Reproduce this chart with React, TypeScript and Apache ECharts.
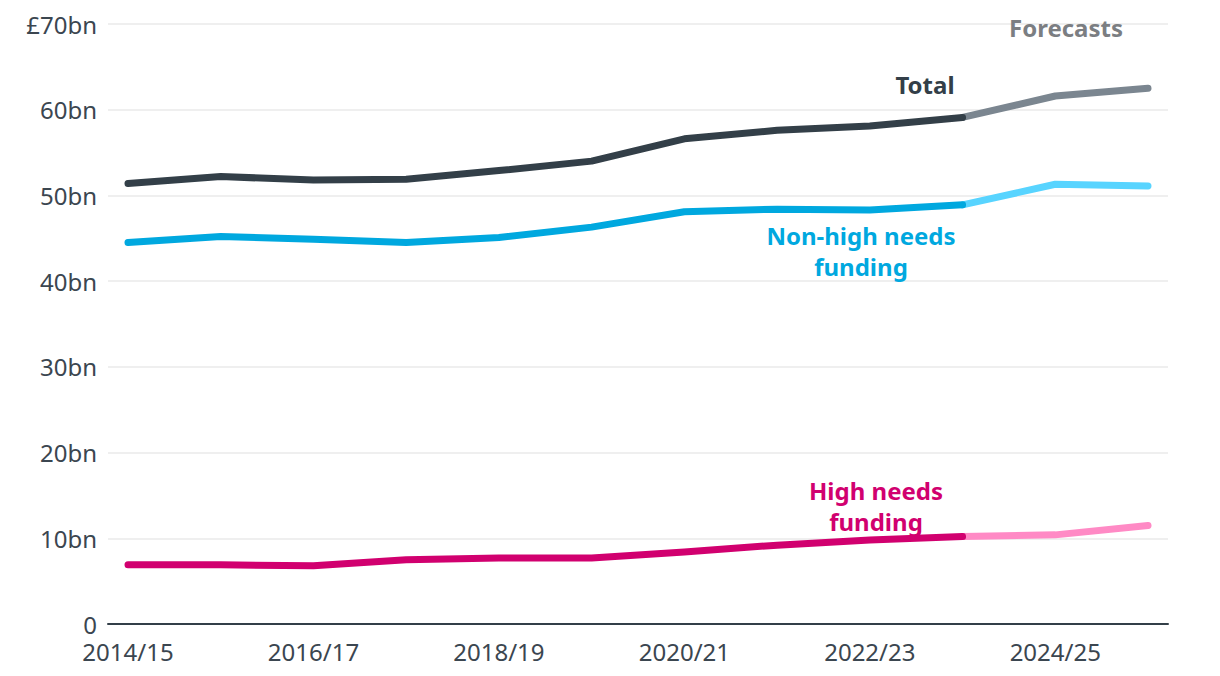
import React, { useEffect, useRef } from "react";
import * as echarts from "echarts";

const years = [
  "2014/15", "2015/16", "2016/17", "2017/18", "2018/19", "2019/20",
  "2020/21", "2021/22", "2022/23", "2023/24", "2024/25", "2025/26",
];
// index of the last outturn year; later values are forecasts
const lastActual = 9;
const totalValues = [51.4, 52.2, 51.8, 51.9, 52.9, 54.0, 56.6, 57.6, 58.1, 59.1, 61.6, 62.5];
const nonHighValues = [44.5, 45.2, 44.9, 44.5, 45.1, 46.3, 48.1, 48.4, 48.3, 48.9, 51.3, 51.1];
const highValues = [6.9, 6.9, 6.8, 7.5, 7.7, 7.7, 8.4, 9.2, 9.8, 10.2, 10.4, 11.5];
const xLabelIndices = [0, 2, 4, 6, 8, 10];
const yTicks = [0, 10, 20, 30, 40, 50, 60, 70];

const FONT = "'Noto Sans', sans-serif";

function actual(values: number[]) {
  return values.slice(0, lastActual + 1).map((v, i) => [i, v]);
}
function forecast(values: number[]) {
  return values.slice(lastActual).map((v, i) => [i + lastActual, v]);
}

function lineSeries(name: string, data: number[][], color: string) {
  return {
    name,
    type: "line",
    data,
    symbol: "none",
    smooth: false,
    lineStyle: { color, width: 7, cap: "round", join: "round" },
    emphasis: { disabled: true },
  };
}

export default function App() {
  const ref = useRef<HTMLDivElement>(null);
  useEffect(() => {
    document.body.style.margin = "0";
    if (!ref.current) return;
    const chart = echarts.init(ref.current, null, { renderer: "svg" });
    const pad = 20 / (1020 / (years.length - 1));
    chart.setOption({
      animation: false,
      backgroundColor: "#ffffff",
      grid: { left: 108, right: 52, top: 24, bottom: 52, containLabel: false },
      xAxis: {
        type: "value",
        min: -pad,
        max: years.length - 1 + pad,
        splitLine: { show: false },
        axisTick: { show: false },
        axisLine: { show: true, lineStyle: { color: "#333f48", width: 2 } },
        axisLabel: {
          customValues: xLabelIndices,
          formatter: (v: number) => years[Math.round(v)] ?? "",
          color: "#3b4650",
          fontFamily: FONT,
          fontSize: 24,
          lineHeight: 22,
          margin: 16,
        },
      },
      yAxis: {
        type: "value",
        min: 0,
        max: 70,
        interval: 10,
        axisLine: { show: false },
        axisTick: { show: false },
        splitLine: { show: true, lineStyle: { color: "#efefef", width: 2 } },
        axisLabel: {
          customValues: yTicks,
          formatter: (v: number) => (v === 0 ? "0" : v === 70 ? `£${v}bn` : `${v}bn`),
          color: "#3b4650",
          fontFamily: FONT,
          fontSize: 24,
          lineHeight: 22,
          margin: 11,
        },
      },
      series: [
        lineSeries("Total forecast", forecast(totalValues), "#7b8690"),
        lineSeries("Non-high forecast", forecast(nonHighValues), "#58d4ff"),
        lineSeries("High forecast", forecast(highValues), "#ff8ac5"),
        lineSeries("Total", actual(totalValues), "#333f48"),
        lineSeries("Non-high needs funding", actual(nonHighValues), "#00a8df"),
        lineSeries("High needs funding", actual(highValues), "#d1006f"),
      ],
      graphic: [
        {
          type: "text",
          x: 1066,
          y: 27,
          z: 100,
          style: {
            text: "Forecasts",
            fill: "#7b7e82",
            font: `bold 24px ${FONT}`,
            align: "center",
            verticalAlign: "middle",
          },
        },
        {
          type: "text",
          x: 925,
          y: 84,
          z: 100,
          style: {
            text: "Total",
            fill: "#333f48",
            font: `bold 24px ${FONT}`,
            align: "center",
            verticalAlign: "middle",
          },
        },
        {
          type: "text",
          x: 861,
          y: 251,
          z: 100,
          style: {
            text: "Non-high needs\nfunding",
            fill: "#00a8df",
            font: `bold 24px ${FONT}`,
            lineHeight: 31,
            align: "center",
            verticalAlign: "middle",
          },
        },
        {
          type: "text",
          x: 876,
          y: 506,
          z: 100,
          style: {
            text: "High needs\nfunding",
            fill: "#d1006f",
            font: `bold 24px ${FONT}`,
            lineHeight: 31,
            align: "center",
            verticalAlign: "middle",
          },
        },
      ],
    });
    return () => chart.dispose();
  }, []);
  return <div ref={ref} style={{ width: 1220, height: 676 }} />;
}
